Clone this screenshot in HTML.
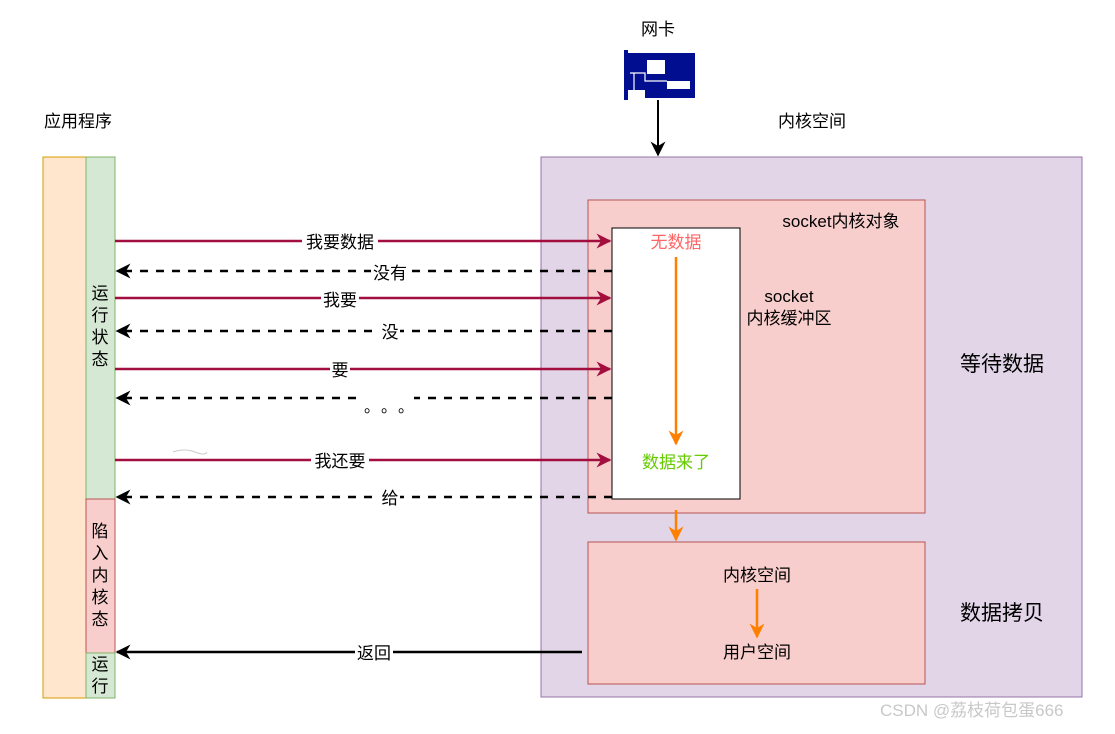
<!DOCTYPE html>
<html><head><meta charset="utf-8"><style>
html,body{margin:0;padding:0;background:#fff;}
svg text{font-family:"Liberation Sans","Noto Sans CJK SC",sans-serif;}
</style></head><body>
<svg width="1115" height="729" viewBox="0 0 1115 729" xmlns="http://www.w3.org/2000/svg">
<defs>
<marker id="ar" viewBox="0 0 10 10" refX="9" refY="5" markerWidth="15" markerHeight="15" markerUnits="userSpaceOnUse" orient="auto"><path d="M0,0 L10,5 L0,10 L3,5 Z" fill="#a20e3d"/></marker>
<marker id="ab" viewBox="0 0 10 10" refX="9" refY="5" markerWidth="15" markerHeight="15" markerUnits="userSpaceOnUse" orient="auto"><path d="M0,0 L10,5 L0,10 L3,5 Z" fill="#000"/></marker>
<marker id="ao" viewBox="0 0 10 10" refX="9" refY="5" markerWidth="15" markerHeight="15" markerUnits="userSpaceOnUse" orient="auto"><path d="M0,0 L10,5 L0,10 L3,5 Z" fill="#ff8000"/></marker>
</defs>
<text x="658" y="35" font-size="17" text-anchor="middle">网卡</text>
<text x="78" y="127" font-size="17" text-anchor="middle">应用程序</text>
<text x="812" y="127" font-size="17" text-anchor="middle">内核空间</text>
<!-- NIC -->
<g fill="#000e8f">
<rect x="624" y="53" width="71" height="37"/>
<rect x="624" y="50" width="4" height="50"/>
<rect x="645" y="88" width="50" height="10"/>
</g>
<rect x="647" y="60" width="18" height="14" fill="#fff"/>
<rect x="667" y="81" width="23" height="8" fill="#fff"/>
<path d="M630,73 H645 V81 H667" stroke="#fff" fill="none" stroke-width="1.2"/>
<path d="M634,73 V90" stroke="#fff" stroke-width="1.2"/>
<line x1="658" y1="100" x2="658" y2="155" stroke="#000" stroke-width="2" marker-end="url(#ab)"/>
<!-- app columns -->
<rect x="43" y="157" width="43" height="541" fill="#ffe6cc" stroke="#d79b00"/>
<rect x="86" y="157" width="29" height="342" fill="#d5e8d4" stroke="#82b366"/>
<rect x="86" y="499" width="29" height="154" fill="#f8cecc" stroke="#b85450"/>
<rect x="86" y="653" width="29" height="45" fill="#d5e8d4" stroke="#82b366"/>
<g font-size="17" text-anchor="middle">
<text x="100" y="299">运</text><text x="100" y="321">行</text><text x="100" y="343">状</text><text x="100" y="365">态</text>
<text x="100" y="537">陷</text><text x="100" y="559">入</text><text x="100" y="581">内</text><text x="100" y="603">核</text><text x="100" y="625">态</text>
<text x="100" y="670">运</text><text x="100" y="692">行</text>
</g>
<!-- kernel -->
<rect x="541" y="157" width="541" height="540" fill="#e1d5e7" stroke="#9673a6"/>
<rect x="588" y="200" width="337" height="313" fill="#f8cecc" stroke="#b85450"/>
<rect x="612" y="228" width="128" height="271" fill="#fff" stroke="#000"/>
<rect x="588" y="542" width="337" height="142" fill="#f8cecc" stroke="#b85450"/>
<text x="841" y="227" font-size="17" text-anchor="middle">socket内核对象</text>
<text x="789" y="302" font-size="17" text-anchor="middle">socket</text>
<text x="789" y="324" font-size="17" text-anchor="middle">内核缓冲区</text>
<text x="676" y="248" font-size="17" fill="#ff6666" text-anchor="middle">无数据</text>
<text x="676" y="468" font-size="17" fill="#66cc00" text-anchor="middle">数据来了</text>
<line x1="676" y1="257" x2="676" y2="444" stroke="#ff8000" stroke-width="2.5" marker-end="url(#ao)"/>
<line x1="676" y1="510" x2="676" y2="540" stroke="#ff8000" stroke-width="2.5" marker-end="url(#ao)"/>
<text x="757" y="581" font-size="17" text-anchor="middle">内核空间</text>
<text x="757" y="658" font-size="17" text-anchor="middle">用户空间</text>
<line x1="757" y1="589" x2="757" y2="637" stroke="#ff8000" stroke-width="2.5" marker-end="url(#ao)"/>
<text x="1002" y="371" font-size="21" text-anchor="middle">等待数据</text>
<text x="1002" y="620" font-size="21" text-anchor="middle">数据拷贝</text>
<!-- arrows -->
<g stroke="#a20e3d" stroke-width="2.5" marker-end="url(#ar)">
<line x1="115" y1="241" x2="610" y2="241"/>
<line x1="115" y1="298" x2="610" y2="298"/>
<line x1="115" y1="369" x2="610" y2="369"/>
<line x1="115" y1="460" x2="610" y2="460"/>
</g>
<g stroke="#000" stroke-width="2.5" stroke-dasharray="8 8" marker-end="url(#ab)">
<line x1="612" y1="271" x2="117" y2="271"/>
<line x1="612" y1="331" x2="117" y2="331"/>
<line x1="612" y1="398" x2="117" y2="398"/>
<line x1="612" y1="497" x2="117" y2="497"/>
</g>
<line x1="582" y1="652" x2="117" y2="652" stroke="#000" stroke-width="2.5" marker-end="url(#ab)"/>
<g font-size="17" text-anchor="middle">
<rect x="302" y="232" width="76" height="19" fill="#fff"/><text x="340" y="248">我要数据</text>
<rect x="371" y="262" width="38" height="19" fill="#fff"/><text x="390" y="279">没有</text>
<rect x="321" y="289" width="38" height="19" fill="#fff"/><text x="340" y="306">我要</text>
<rect x="380" y="322" width="20" height="19" fill="#fff"/><text x="390" y="338">没</text>
<rect x="330" y="360" width="20" height="19" fill="#fff"/><text x="340" y="376">要</text>
<rect x="362" y="392" width="52" height="14" fill="#fff"/>
<text x="364" y="412" font-size="16" text-anchor="start" style="font-family:'Noto Sans CJK SC',sans-serif">。</text>
<text x="381" y="412" font-size="16" text-anchor="start" style="font-family:'Noto Sans CJK SC',sans-serif">。</text>
<text x="398" y="412" font-size="16" text-anchor="start" style="font-family:'Noto Sans CJK SC',sans-serif">。</text>
<rect x="311" y="451" width="58" height="19" fill="#fff"/><text x="340" y="467">我还要</text>
<rect x="380" y="488" width="20" height="19" fill="#fff"/><text x="390" y="504">给</text>
<rect x="355" y="643" width="38" height="19" fill="#fff"/><text x="374" y="659">返回</text>
</g>
<path d="M173,452 Q185,448 195,452 T207,452" stroke="#ccc" fill="none"/>
<text x="880" y="716" font-size="17" fill="#c8c8c8">CSDN @荔枝荷包蛋666</text>
</svg>
</body></html>
